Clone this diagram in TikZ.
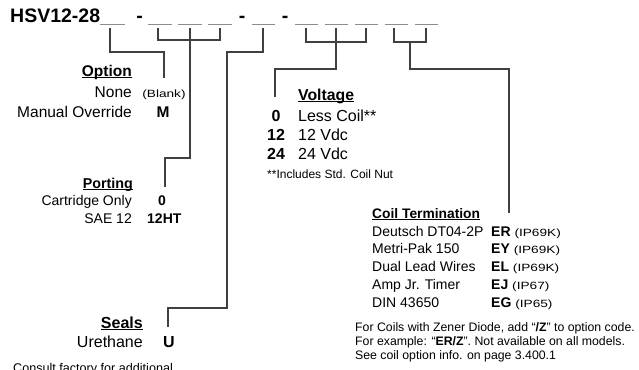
\documentclass[tikz,border=0pt]{standalone}
\usepackage{fontspec}
\setmainfont{Liberation Sans}
\newfontfamily\widesf[FakeStretch=1.3]{Liberation Sans}
\newcommand\fs[1]{\fontsize{#1}{#1}\selectfont}
\newcommand\ulhd[1]{\setbox0\hbox{#1}\rlap{\rule[-2.4pt]{\wd0}{1.1pt}}\box0}

\begin{document}
\begin{tikzpicture}[x=1pt,y=-1pt,
  ttl/.style={font=\bfseries\fs{19.5},inner sep=0pt},
  hdr/.style={font=\bfseries\fs{#1},inner sep=0pt},
  lbl/.style={font=\fs{#1},inner sep=0pt},
  cde/.style={font=\bfseries\fs{#1},inner sep=0pt},
  sml/.style={font=\widesf\fs{10.5},inner sep=0pt},
  note/.style={font=\fs{12.3},inner sep=0pt,anchor=base west},
  slot/.style={draw=black!45,line width=1.2pt},
  lead/.style={draw=black!75,line width=1.3pt}
]
\useasboundingbox (0,0) rectangle (639,369);
\clip (0,0) rectangle (639,369);

% part number
\node[ttl,anchor=base west] (pn) at (10,23) {HSV12-28};
\node[ttl,anchor=base] (d1) at (139.5,23) {-};
\node[ttl,anchor=base] (d2) at (242,23) {-};
\node[ttl,anchor=base] (d3) at (285,23) {-};
\foreach \a/\b in {100/125,148/172,178/202,208/232,252/275,295/318,325/348,355/378,385/408,415/438}
  \draw[slot] (\a,24.5) -- (\b,24.5);

% slot ends
\coordinate (s1) at (110,28);
\coordinate (s2a) at (158,28);
\coordinate (s2b) at (190,28);
\coordinate (s2c) at (220,28);
\coordinate (s3) at (263,28);
\coordinate (s4a) at (306,28);
\coordinate (s4b) at (336,28);
\coordinate (s4c) at (366,28);
\coordinate (s5a) at (394,28);
\coordinate (s5b) at (426,28);
\coordinate (s5m) at (410,42);

% option
\node[hdr=15.5,anchor=base east] (opthd) at (132,76) {\ulhd{Option}};
\node[lbl=15.5,anchor=base east] (optnone) at (132,97) {None};
\node[sml,anchor=base] (optblank) at (164,97) {(Blank)};
\node[lbl=15.5,anchor=base east] (optman) at (132,117) {Manual Override};
\node[cde=15.5,anchor=base] (optm) at (163,117) {M};
\coordinate (e1) at (164,78);

% porting
\node[hdr=14.3,anchor=base east] (porthd) at (133,188) {\ulhd{Porting}};
\node[lbl=14,anchor=base east] (portcart) at (132,205) {Cartridge Only};
\node[cde=14,anchor=base] (port0) at (162,205) {0};
\node[lbl=14,anchor=base east] (portsae) at (132,223) {SAE 12};
\node[cde=14,anchor=base west] (port12) at (147,223) {12HT};
\coordinate (e2) at (165,187);

% seals
\node[hdr=16,anchor=base east] (sealhd) at (143,328) {\ulhd{Seals}};
\node[lbl=16,anchor=base east] (sealure) at (143,347) {Urethane};
\node[cde=16,anchor=base] (sealu) at (169,347) {U};
\coordinate (e3) at (168,327);
\node[lbl=12.6,anchor=base west] (consult) at (13,372) {Consult factory for additional};

% voltage
\node[hdr=15.8,anchor=base west] (volthd) at (298,100) {\ulhd{Voltage}};
\foreach \c/\t/\y [count=\i] in {0/Less Coil**/121,12/12 Vdc/140,24/24 Vdc/159}{
  \node[cde=16,anchor=base] (vc\i) at (276,\y) {\c};
  \node[lbl=16,anchor=base west] (vt\i) at (298,\y) {\t};
}
\node[lbl=12,anchor=base west] (voltnote) at (267,178) {**Includes Std. Coil Nut};
\coordinate (e4) at (275,97);

% coil termination
\node[hdr=13.8,anchor=base west] (coilhd) at (372,218) {\ulhd{Coil Termination}};
\foreach \t/\c/\p [count=\i] in {Deutsch DT04-2P/ER/IP69K,Metri-Pak 150/EY/IP69K,
    Dual Lead Wires/EL/IP69K,Amp Jr. Timer/EJ/IP67,DIN 43650/EG/IP65}{
  \node[lbl=14,anchor=base west] (ct\i) at (372,236+17.8*\i-17.8) {\t};
  \node[cde=14,anchor=base west] (cc\i) at (491,236+17.8*\i-17.8)
    {\c\ {\mdseries\widesf\fs{10.5}(\p)}};
}
\coordinate (e5) at (509,213);
\node[note] (zn1) at (355,331) {For Coils with Zener Diode, add ``\textbf{/Z}'' to option code.};
\node[note] (zn2) at (355,345) {For example: ``\textbf{ER/Z}''. Not available on all models.};
\node[note] (zn3) at (355,359) {See coil option info. on page 3.400.1};

% leads
\draw[lead] (s1) -- ++(0,24) -| (e1);
\draw[lead] (s2a) -- ++(0,12) -| (s2c);
\draw[lead] (s2b) -- ++(0,130) -| (e2);
\draw[lead] (s3) -- ++(0,24) -- ++(-36,0) -- ++(0,256) -| (e3);
\draw[lead] (s4a) -- ++(0,14) -| (s4c);
\draw[lead] (s4b) -- ++(0,41) -| (e4);
\draw[lead] (s5a) -- ++(0,14) -| (s5b);
\draw[lead] (s5m) -- ++(0,27) -| (e5);

\end{tikzpicture}
\end{document}
